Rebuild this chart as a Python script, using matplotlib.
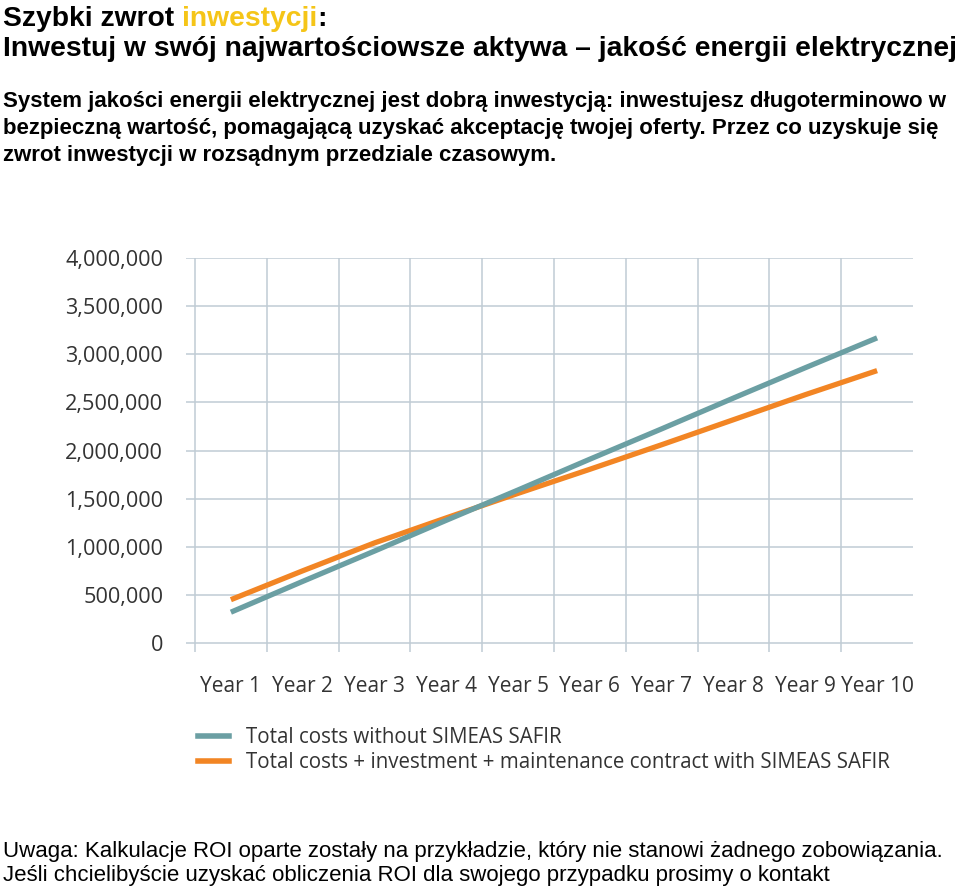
import numpy as np
import matplotlib
matplotlib.use('Agg')
import matplotlib.pyplot as plt
from matplotlib.lines import Line2D

# chart data
years = ['Year 1', 'Year 2', 'Year 3', 'Year 4', 'Year 5',
         'Year 6', 'Year 7', 'Year 8', 'Year 9', 'Year 10']
costs_without = [320000, 640000, 955000, 1275000, 1590000,
                 1910000, 2225000, 2545000, 2860000, 3170000]
costs_with = [450000, 750000, 1040000, 1300000, 1555000,
              1805000, 2060000, 2320000, 2580000, 2830000]
y_ticks = [0, 500000, 1000000, 1500000, 2000000, 2500000, 3000000, 3500000, 4000000]
legend_labels = ['Total costs without SIMEAS SAFIR',
                 'Total costs + investment + maintenance contract with SIMEAS SAFIR']

title_1 = 'Szybki zwrot'
title_1_hl = 'inwestycji'
title_2 = 'Inwestuj w swój najwartościowsze aktywa \u2013 jakość energii elektrycznej'
intro = ['System jakości energii elektrycznej jest dobrą inwestycją: inwestujesz długoterminowo w',
         'bezpieczną wartość, pomagającą uzyskać akceptację twojej oferty. Przez co uzyskuje się',
         'zwrot inwestycji w rozsądnym przedziale czasowym.']
note = ['Uwaga: Kalkulacje ROI oparte zostały na przykładzie, który nie stanowi żadnego zobowiązania.',
        'Jeśli chcielibyście uzyskać obliczenia ROI dla swojego przypadku prosimy o kontakt']

TEAL = '#6b9fa3'
ORANGE = '#f28524'
YELLOW = '#f5c518'
GRID = '#c0ccd4'
TXT = '#333333'

W, H = 960, 890
fig = plt.figure(figsize=(W / 100, H / 100), dpi=100)
fig.patch.set_facecolor('white')


def fy(py):
    return 1 - py / H


# ---- chart
x = np.arange(1, len(years) + 1)
ax = fig.add_axes([186 / W, fy(652), (913 - 186) / W, (652 - 258) / H])
y_bottom = -93500
ax.set_xlim(0.375, 10.5)
ax.set_ylim(y_bottom, 4000000)
for s in ax.spines.values():
    s.set_visible(False)

# category grid: lines between the years, short stubs below zero and left of the plot
ax.hlines(y_ticks, 0.375, 10.5, color=GRID, lw=1.1, zorder=1)
ax.vlines(np.arange(0.5, 10.5, 1), y_bottom, 4000000, color=GRID, lw=1.1, zorder=1)

ax.plot(x, costs_without, color=TEAL, lw=3.8, solid_capstyle='butt', zorder=3)
ax.plot(x, costs_with, color=ORANGE, lw=3.8, solid_capstyle='butt', zorder=2)

tick_font = ['Open Sans', 'DejaVu Sans']
ax.set_yticks(y_ticks)
ax.set_yticklabels(['{:,}'.format(v) for v in y_ticks], family=tick_font,
                   fontsize=15.6, color=TXT)
ax.set_xticks(x)
ax.set_xticklabels(years, family=tick_font, fontsize=15, color=TXT)
ax.tick_params(axis='y', length=0, pad=16.5)
ax.tick_params(axis='x', length=0, pad=17)

handles = [Line2D([], [], color=TEAL, lw=4), Line2D([], [], color=ORANGE, lw=4)]
fig.legend(handles, legend_labels, loc='upper left',
           bbox_to_anchor=(198 / W, fy(727)), frameon=False, borderpad=0,
           borderaxespad=0, handlelength=1.5, handletextpad=0.85,
           labelspacing=0.2, prop=dict(family=tick_font, size=14.8),
           labelcolor=TXT)

# ---- header text
head_font = dict(family=['Liberation Sans', 'DejaVu Sans'], fontweight='bold')
fs_title = 20.3
t1 = fig.text(3 / W, fy(26.5), title_1, fontsize=fs_title, va='baseline', **head_font)
sp = 0.278 * fs_title * 100 / 72
t2 = ax.annotate(title_1_hl, xy=(1, 0), xycoords=t1, xytext=(sp, 0),
                 textcoords='offset pixels', va='bottom', ha='left',
                 fontsize=fs_title, color=YELLOW, annotation_clip=False, **head_font)
ax.annotate(':', xy=(1, 0), xycoords=t2, va='bottom', ha='left',
            fontsize=fs_title, color='black', annotation_clip=False, **head_font)
fig.text(3 / W, fy(56), title_2, fontsize=fs_title, va='baseline', **head_font)

for i, line in enumerate(intro):
    fig.text(3 / W, fy(107 + 27 * i), line, fontsize=16, va='baseline', **head_font)

for i, line in enumerate(note):
    fig.text(3 / W, fy(857 + 24 * i), line, fontsize=16, va='baseline',
             family=['Liberation Sans', 'DejaVu Sans'])

fig.savefig('out.png', dpi=100, facecolor='white')
